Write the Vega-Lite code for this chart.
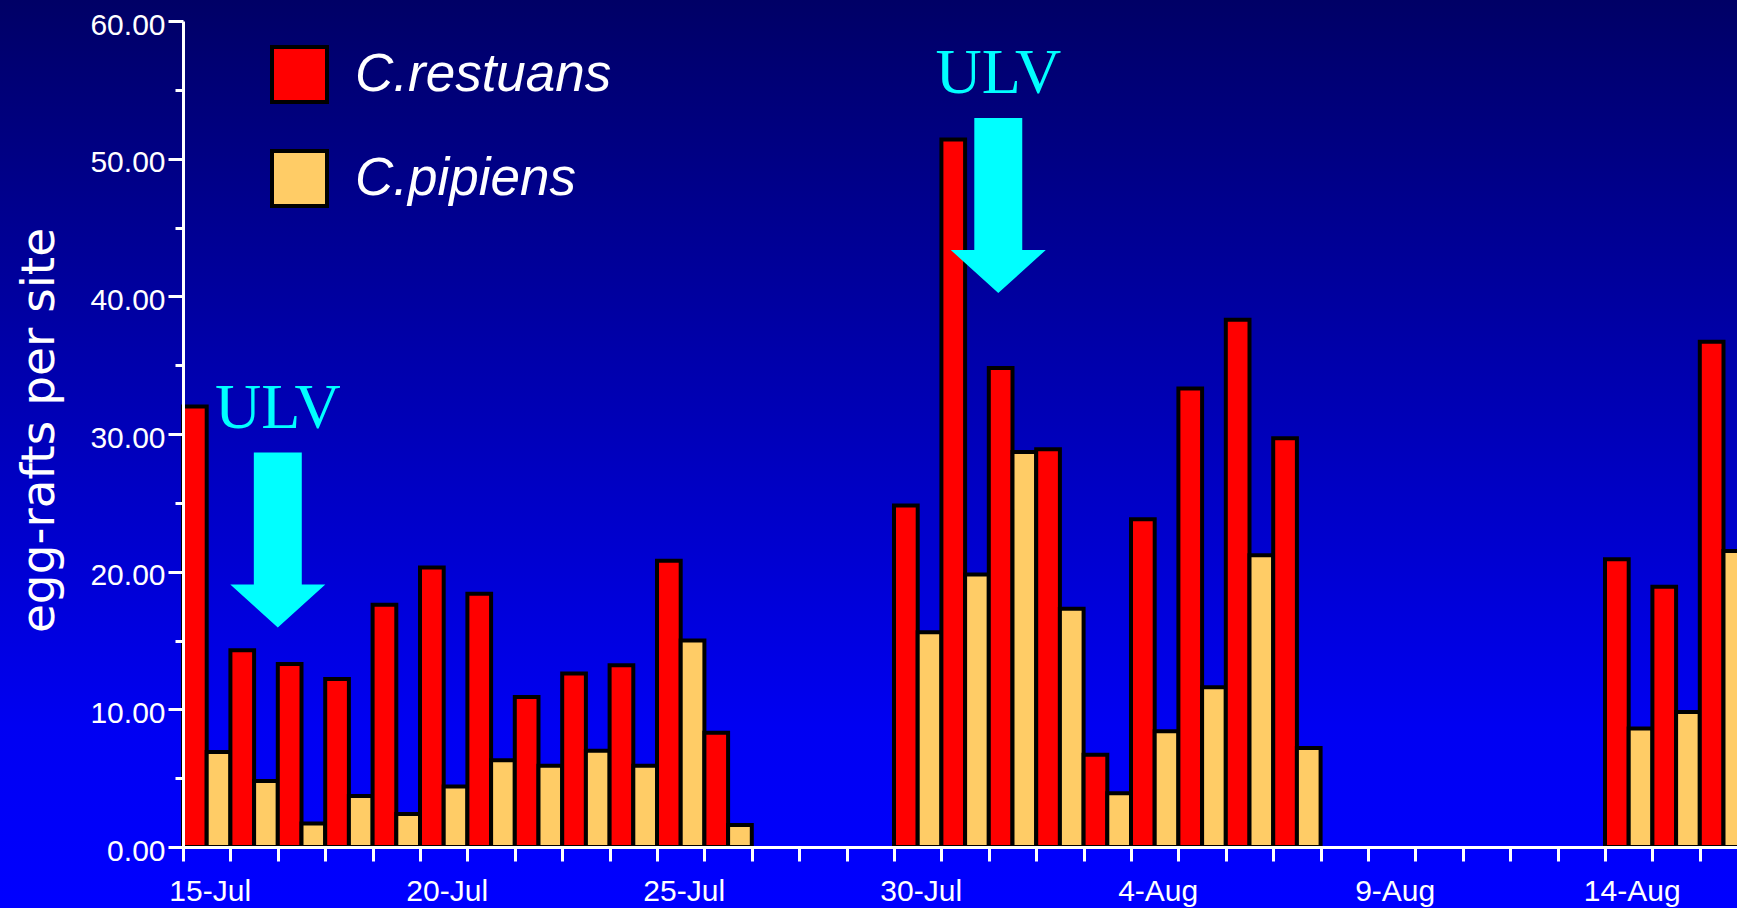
{
  "$schema": "https://vega.github.io/schema/vega-lite/v6.json",
  "width": 1737,
  "height": 908,
  "autosize": {"type": "none"},
  "padding": 0,
  "background": "#0000B0",
  "view": {
    "stroke": null,
    "fill": {
      "gradient": "linear", "x1": 0, "y1": 0, "x2": 0, "y2": 1,
      "stops": [
        {"offset": 0, "color": "#000066"},
        {"offset": 0.8, "color": "#0000F2"},
        {"offset": 1, "color": "#0000FF"}
      ]
    }
  },
  "datasets": {
    "bars": [
      {"date": "15-Jul", "species": "C.restuans", "value": 32.0}, {"date": "15-Jul", "species": "C.pipiens", "value": 6.9},
      {"date": "16-Jul", "species": "C.restuans", "value": 14.3}, {"date": "16-Jul", "species": "C.pipiens", "value": 4.8},
      {"date": "17-Jul", "species": "C.restuans", "value": 13.3}, {"date": "17-Jul", "species": "C.pipiens", "value": 1.7},
      {"date": "18-Jul", "species": "C.restuans", "value": 12.2}, {"date": "18-Jul", "species": "C.pipiens", "value": 3.7},
      {"date": "19-Jul", "species": "C.restuans", "value": 17.6}, {"date": "19-Jul", "species": "C.pipiens", "value": 2.4},
      {"date": "20-Jul", "species": "C.restuans", "value": 20.3}, {"date": "20-Jul", "species": "C.pipiens", "value": 4.4},
      {"date": "21-Jul", "species": "C.restuans", "value": 18.4}, {"date": "21-Jul", "species": "C.pipiens", "value": 6.3},
      {"date": "22-Jul", "species": "C.restuans", "value": 10.9}, {"date": "22-Jul", "species": "C.pipiens", "value": 5.9},
      {"date": "23-Jul", "species": "C.restuans", "value": 12.6}, {"date": "23-Jul", "species": "C.pipiens", "value": 7.0},
      {"date": "24-Jul", "species": "C.restuans", "value": 13.2}, {"date": "24-Jul", "species": "C.pipiens", "value": 5.9},
      {"date": "25-Jul", "species": "C.restuans", "value": 20.8}, {"date": "25-Jul", "species": "C.pipiens", "value": 15.0},
      {"date": "26-Jul", "species": "C.restuans", "value": 8.3}, {"date": "26-Jul", "species": "C.pipiens", "value": 1.6},
      {"date": "30-Jul", "species": "C.restuans", "value": 24.8}, {"date": "30-Jul", "species": "C.pipiens", "value": 15.6},
      {"date": "31-Jul", "species": "C.restuans", "value": 51.4}, {"date": "31-Jul", "species": "C.pipiens", "value": 19.8},
      {"date": "1-Aug", "species": "C.restuans", "value": 34.8}, {"date": "1-Aug", "species": "C.pipiens", "value": 28.7},
      {"date": "2-Aug", "species": "C.restuans", "value": 28.9}, {"date": "2-Aug", "species": "C.pipiens", "value": 17.3},
      {"date": "3-Aug", "species": "C.restuans", "value": 6.7}, {"date": "3-Aug", "species": "C.pipiens", "value": 3.9},
      {"date": "4-Aug", "species": "C.restuans", "value": 23.8}, {"date": "4-Aug", "species": "C.pipiens", "value": 8.4},
      {"date": "5-Aug", "species": "C.restuans", "value": 33.3}, {"date": "5-Aug", "species": "C.pipiens", "value": 11.6},
      {"date": "6-Aug", "species": "C.restuans", "value": 38.3}, {"date": "6-Aug", "species": "C.pipiens", "value": 21.2},
      {"date": "7-Aug", "species": "C.restuans", "value": 29.7}, {"date": "7-Aug", "species": "C.pipiens", "value": 7.2},
      {"date": "14-Aug", "species": "C.restuans", "value": 20.9}, {"date": "14-Aug", "species": "C.pipiens", "value": 8.6},
      {"date": "15-Aug", "species": "C.restuans", "value": 18.9}, {"date": "15-Aug", "species": "C.pipiens", "value": 9.8},
      {"date": "16-Aug", "species": "C.restuans", "value": 36.7}, {"date": "16-Aug", "species": "C.pipiens", "value": 21.5}
    ]
  },
  "layer": [
    {
      "data": {"name": "bars"},
      "mark": {"type": "bar", "stroke": "black", "strokeWidth": 4, "opacity": 1},
      "encoding": {
        "x": {
          "field": "date", "type": "nominal", "sort": null,
          "scale": {
            "domain": ["15-Jul","16-Jul","17-Jul","18-Jul","19-Jul","20-Jul","21-Jul","22-Jul","23-Jul","24-Jul","25-Jul","26-Jul","27-Jul","28-Jul","29-Jul","30-Jul","31-Jul","1-Aug","2-Aug","3-Aug","4-Aug","5-Aug","6-Aug","7-Aug","8-Aug","9-Aug","10-Aug","11-Aug","12-Aug","13-Aug","14-Aug","15-Aug","16-Aug"],
            "range": [183, 1747.2],
            "paddingInner": 0, "paddingOuter": 0
          },
          "axis": {
            "title": null, "orient": "bottom", "offset": -61,
            "tickBand": "extent",
            "labelExpr": "indexof(['15-Jul','20-Jul','25-Jul','30-Jul','4-Aug','9-Aug','14-Aug'], datum.value) >= 0 ? datum.value : ''",
            "labelAngle": 0, "labelFont": "Liberation Sans", "labelFontSize": 30, "labelColor": "white",
            "labelPadding": 15, "labelOverlap": false, "labelBound": false, "labelOffset": 3,
            "tickSize": 14, "tickWidth": 3, "tickColor": "white",
            "domainColor": "white", "domainWidth": 3, "grid": false, "zindex": 1
          }
        },
        "xOffset": {
          "field": "species", "type": "nominal", "sort": null,
          "scale": {"domain": ["C.restuans", "C.pipiens"], "paddingInner": 0, "paddingOuter": 0}
        },
        "y": {
          "field": "value", "type": "quantitative",
          "scale": {"domain": [0, 60], "range": [847, 21], "nice": false, "zero": true},
          "axis": {
            "title": "egg-rafts per site", "orient": "left", "offset": -183,
            "values": [0,5,10,15,20,25,30,35,40,45,50,55,60],
            "labelExpr": "datum.value % 10 === 0 ? format(datum.value, '.2f') : ''",
            "labelFont": "Liberation Sans", "labelFontSize": 30, "labelColor": "white",
            "labelPadding": 3, "labelOffset": 4, "labelFlush": false, "labelBound": false, "labelOverlap": false,
            "tickSize": {"condition": {"test": "datum.value % 10 === 0", "value": 15}, "value": 8},
            "tickWidth": 3, "tickColor": "white",
            "domainColor": "white", "domainWidth": 3, "grid": false, "zindex": 1,
            "titleFont": "DejaVu Sans", "titleFontSize": 47, "titleFontWeight": "normal", "titleColor": "white",
            "titleX": -130, "titleY": 430, "titleAngle": -90, "titleBaseline": "alphabetic", "titleAlign": "center"
          }
        },
        "color": {
          "field": "species", "type": "nominal",
          "scale": {"domain": ["C.restuans", "C.pipiens"], "range": ["#FF0000", "#FFCC66"]},
          "legend": {
            "title": null, "orient": "none", "legendX": 270, "legendY": 45, "padding": 0,
            "symbolType": "square", "symbolSize": 3025, "symbolStrokeColor": "black", "symbolStrokeWidth": 4,
            "symbolOpacity": 1,
            "labelFont": "Liberation Sans", "labelFontStyle": "italic", "labelFontSize": 53, "labelColor": "white",
            "labelOffset": 26, "rowPadding": 33, "labelLimit": 600
          }
        }
      }
    },
    {
      "data": {"values": [{"date": "17-Jul", "value": 22.3}]},
      "mark": {"type": "point", "shape": "M -0.274 -1 L 0.274 -1 L 0.274 0.509 L 0.543 0.509 L 0 1 L -0.543 0.509 L -0.274 0.509 Z", "size": 30625, "filled": true, "color": "#00FFFF", "opacity": 1, "strokeWidth": 0},
      "encoding": {
        "x": {"field": "date", "type": "nominal", "sort": null, "bandPosition": 0},
        "y": {"field": "value", "type": "quantitative"}
      }
    },
    {
      "data": {"values": [{"date": "1-Aug", "value": 46.6}]},
      "mark": {"type": "point", "shape": "M -0.274 -1 L 0.274 -1 L 0.274 0.509 L 0.543 0.509 L 0 1 L -0.543 0.509 L -0.274 0.509 Z", "size": 30625, "filled": true, "color": "#00FFFF", "opacity": 1, "strokeWidth": 0},
      "encoding": {
        "x": {"field": "date", "type": "nominal", "sort": null, "bandPosition": 0.2},
        "y": {"field": "value", "type": "quantitative"}
      }
    },
    {
      "data": {"values": [{"date": "17-Jul", "value": 30.4, "label": "ULV"}]},
      "mark": {"type": "text", "font": "Liberation Serif", "fontSize": 64, "color": "#00FFFF", "align": "center", "baseline": "alphabetic"},
      "encoding": {
        "x": {"field": "date", "type": "nominal", "sort": null, "bandPosition": 0},
        "y": {"field": "value", "type": "quantitative"},
        "text": {"field": "label"}
      }
    },
    {
      "data": {"values": [{"date": "1-Aug", "value": 54.8, "label": "ULV"}]},
      "mark": {"type": "text", "font": "Liberation Serif", "fontSize": 64, "color": "#00FFFF", "align": "center", "baseline": "alphabetic"},
      "encoding": {
        "x": {"field": "date", "type": "nominal", "sort": null, "bandPosition": 0.2},
        "y": {"field": "value", "type": "quantitative"},
        "text": {"field": "label"}
      }
    }
  ]
}
